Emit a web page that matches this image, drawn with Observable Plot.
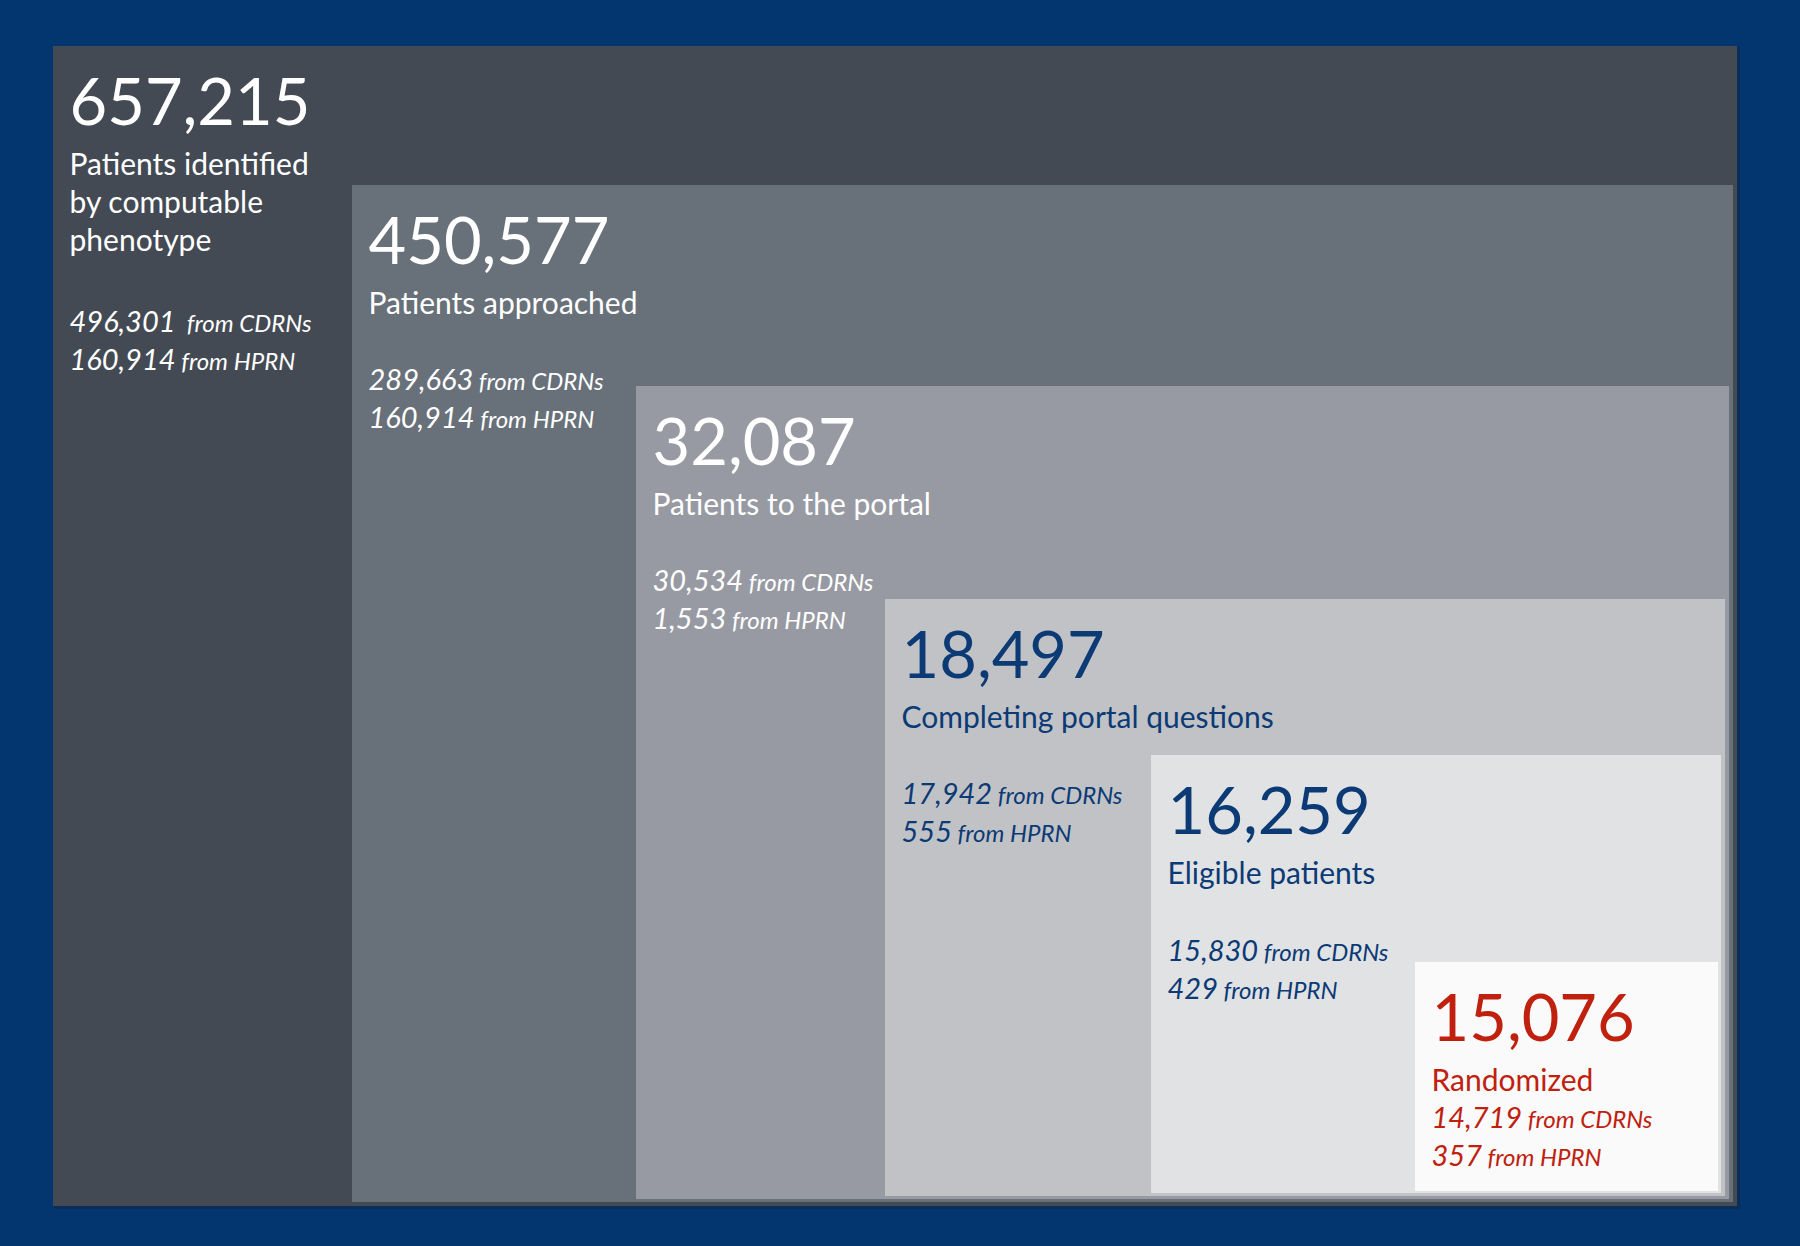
<!DOCTYPE html>
<html><head><meta charset="utf-8">
<script src="https://cdn.jsdelivr.net/npm/d3@7"></script>
<script src="https://cdn.jsdelivr.net/npm/@observablehq/plot@0.6"></script>
<style>html,body{margin:0;padding:0;background:#03366f;overflow:hidden} svg{display:block}</style>
</head><body><div id="chart"></div>
<script>
// ---- data ----
const stages = ["Patients identified\nby computable\nphenotype", "Patients approached", "Patients to the portal", "Completing portal questions", "Eligible patients", "Randomized"];
const totals = [657215, 450577, 32087, 18497, 16259, 15076];
const fromCDRNs = [496301, 289663, 30534, 17942, 15830, 14719];
const fromHPRN = [160914, 160914, 1553, 555, 429, 357];
const sourceLabels = ["from CDRNs", "from HPRN"];

// ---- layout (diagram geometry, in page units) ----
const W = 1800, H = 1246;
const boxLeft = [53, 352, 636, 885, 1151, 1415];
const boxTop = [46, 185, 386, 599, 755, 962];
const boxRight = [1737, 1733, 1729, 1725, 1721, 1718];
const boxBottom = [1206, 1202, 1199, 1196, 1193, 1191];
const subGap = [81, 76, 76, 76, 77, 37];
const inset = 16, numDrop = 78, labelDrop = 128, lineStep = 38;

// ---- styles ----
const boxFill = ["#434a54", "#687079", "#979aa2", "#c1c2c6", "#e1e2e4", "#fafafa"];
const textFill = ["#ffffff", "#ffffff", "#ffffff", "#0b3a75", "#0b3a75", "#c0200e"];
const FONT = "Lato";
const numSize = 65, labelSize = 30, subNumSize = 29, subSrcSize = 24;

const fmt = d3.format(",");
const boxes = stages.map((s, i) => ({i, x1: boxLeft[i], x2: boxRight[i], y1: boxTop[i], y2: boxBottom[i], fill: boxFill[i]}));
const numbers = totals.map((v, i) => ({i, x: boxLeft[i] + inset, y: boxTop[i] + numDrop, text: fmt(v), fill: textFill[i]}));
const labels = stages.map((s, i) => ({i, x: boxLeft[i] + inset, y: boxTop[i] + labelDrop + (s.split("\n").length - 1) * lineStep, text: s, fill: textFill[i]}));
const subs = [];
stages.forEach((s, i) => {
  const base = labels[i].y + subGap[i];
  [fromCDRNs[i], fromHPRN[i]].forEach((v, k) => {
    const sep = (i === 0 && k === 0) ? "\u00a0\u00a0" : "\u00a0";
    subs.push({i, x: boxLeft[i] + inset, y: base + k * lineStep, text: fmt(v) + "|" + sep + sourceLabels[k], fill: textFill[i]});
  });
});

const svg = Plot.plot({
  width: W, height: H,
  margin: 0,
  x: {domain: [0, W], range: [0, W], axis: null},
  y: {domain: [0, H], range: [0, H], axis: null},
  color: {type: "identity"},
  style: {background: "#03366f", fontFamily: FONT},
  marks: [
    // drop shadows
    Plot.rect(boxes, {x1: d => d.x1 + 1, x2: d => d.x2 + 3, y1: d => d.y1 + 1, y2: d => d.y2 + 3, fill: "#1a1f26", fillOpacity: 0.3}),
    Plot.rect(boxes, {x1: "x1", x2: "x2", y1: "y1", y2: "y2", fill: "fill"}),
    Plot.text(numbers, {x: "x", y: "y", text: "text", fill: "fill", textAnchor: "start", lineAnchor: "bottom", fontSize: numSize, fontFamily: FONT}),
    Plot.text(labels, {x: "x", y: "y", text: "text", fill: "fill", textAnchor: "start", lineAnchor: "bottom", fontSize: labelSize, lineHeight: lineStep / labelSize, fontFamily: FONT}),
    Plot.text(subs, {x: "x", y: "y", text: "text", fill: "fill", textAnchor: "start", lineAnchor: "bottom", fontSize: subNumSize, fontStyle: "italic", fontFamily: FONT})
  ]
});

d3.select(svg).selectAll("text").filter(function() { return this.textContent.includes("|"); }).each(function() {
  const [num, src] = this.textContent.split("|");
  const t = d3.select(this);
  t.text(null);
  t.append("tspan").attr("font-size", subNumSize).text(num);
  t.append("tspan").attr("font-size", subSrcSize).text(src);
});

document.getElementById("chart").appendChild(svg);
</script>
</body></html>
